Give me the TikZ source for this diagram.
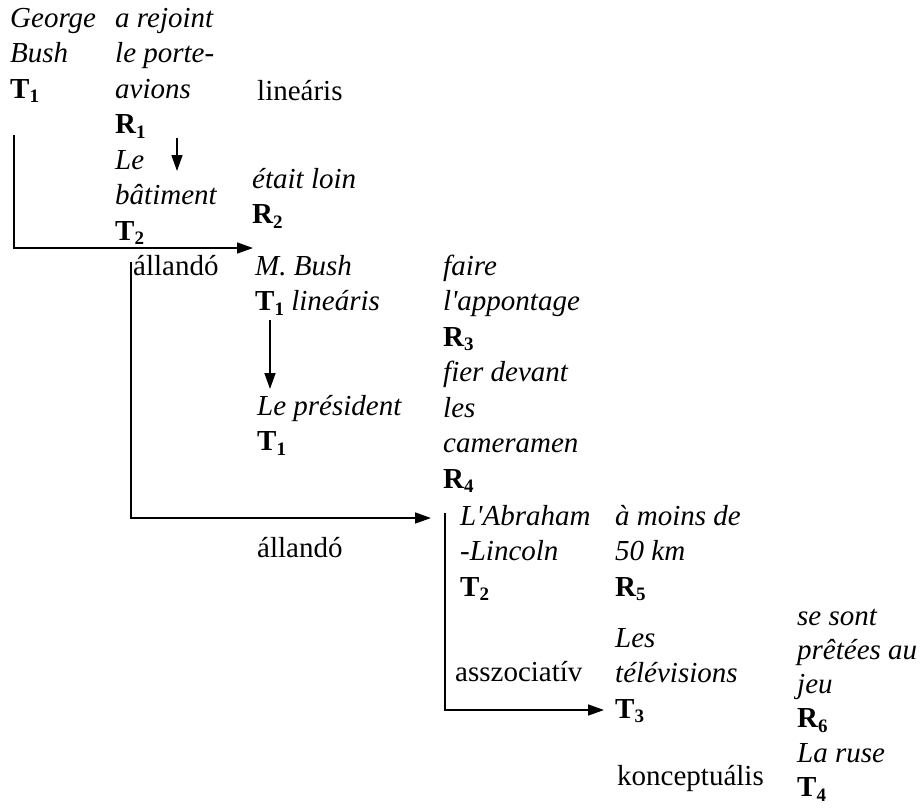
\documentclass[tikz,border=0pt]{standalone}
\usepackage{fontspec}
\setmainfont{Liberation Serif}[Ligatures=TeXOff]
\usetikzlibrary{arrows.meta}
\newcommand\lab[2]{\textbf{\upshape #1\raisebox{-4.5pt}{\fontsize{19}{19}\selectfont #2}}}
\newcommand\blk[1]{\begin{tabular}[t]{@{}l@{}}#1\end{tabular}}
\tikzset{
  txt/.style={anchor=base west, inner sep=0pt, font=\fontsize{29}{35.5}\selectfont},
  txtb/.style={txt, font=\fontsize{29}{34.3}\selectfont},
  conn/.style={line width=1.6pt},
  arr/.style={conn, -{Triangle[length=16pt,width=11pt]}},
}
\begin{document}
\begin{tikzpicture}[x=1pt,y=-1pt]
\useasboundingbox (0,0) rectangle (922,807);
% text blocks
\node[txt] (gb) at (10,27) {\blk{\textit{George}\\ \textit{Bush}\\ \lab{T}{1}}};
\node[txt] (rej) at (115,27) {\blk{\textit{a rejoint}\\ \textit{le porte-}\\ \textit{avions}\\ \lab{R}{1}\\ \textit{Le}\\ \textit{bâtiment}\\ \lab{T}{2}}};
\node[txt] (lin1) at (257,100) {lineáris};
\node[txt] (loin) at (252,188) {\blk{\textit{était loin}\\ \lab{R}{2}}};
\node[txt] (all1) at (133,275) {állandó};
\node[txt] (mb) at (255,275) {\blk{\textit{M. Bush}\\ \lab{T}{1} \textit{lineáris}}};
\node[txt] (pres) at (257,415) {\blk{\textit{Le président}\\ \lab{T}{1}}};
\node[txt] (faire) at (443,275) {\blk{\textit{faire}\\ \textit{l'appontage}\\ \lab{R}{3}\\ \textit{fier devant}\\ \textit{les}\\ \textit{cameramen}\\ \lab{R}{4}}};
\node[txt] (all2) at (257,557) {állandó};
\node[txt] (abr) at (460,525) {\blk{\textit{L'Abraham}\\ \textit{-Lincoln}\\ \lab{T}{2}}};
\node[txt] (moins) at (615,525) {\blk{\textit{à moins de}\\ \textit{50 km}\\ \lab{R}{5}}};
\node[txt] (assz) at (455,681) {asszociatív};
\node[txt] (tele) at (615,647) {\blk{\textit{Les}\\ \textit{télévisions}\\ \lab{T}{3}}};
\node[txtb] (sont) at (797,625) {\blk{\textit{se sont}\\ \textit{prêtées au}\\ \textit{jeu}\\ \lab{R}{6}\\ \textit{La ruse}\\ \lab{T}{4}}};
\node[txt] (konc) at (617,785) {konceptuális};
% connector points
\coordinate (a1) at (14,135);
\coordinate (a2) at (14,248);
\coordinate (a3) at (253,248);
\coordinate (s1) at (177,138);
\coordinate (s2) at (177,171);
\coordinate (b1) at (131,262);
\coordinate (b2) at (131,518);
\coordinate (b3) at (431,518);
\coordinate (m1) at (270,320);
\coordinate (m2) at (270,389);
\coordinate (d1) at (445,513);
\coordinate (d2) at (445,710);
\coordinate (d3) at (604,710);
% connectors
\draw[arr] (a1) -- (a2) -- (a3);
\draw[arr] (s1) -- (s2);
\draw[arr] (b1) -- (b2) -- (b3);
\draw[arr] (m1) -- (m2);
\draw[arr] (d1) -- (d2) -- (d3);
\end{tikzpicture}
\end{document}
